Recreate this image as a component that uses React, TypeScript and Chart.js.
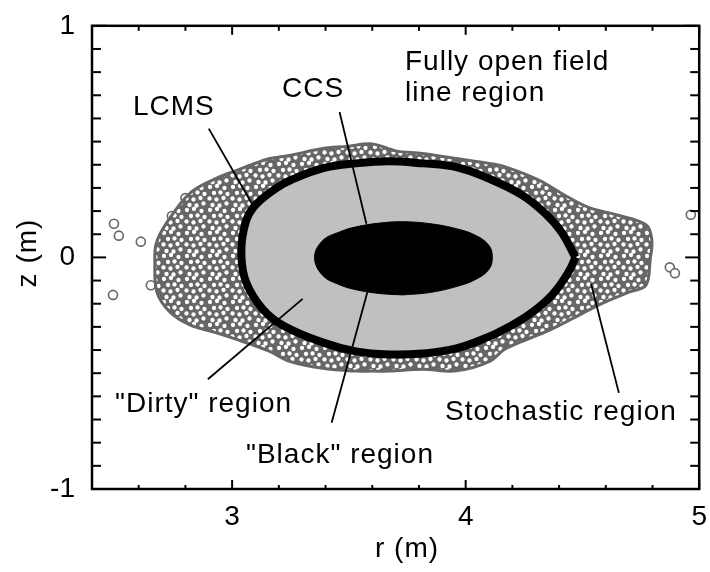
import React, { useEffect, useRef } from "react";
import { Chart, registerables } from "chart.js";

Chart.register(...registerables);

// ---------- axes ----------
const rMin = 2.4;
const rMax = 5;
const zMin = -1;
const zMax = 1;
const rMajorTicks = [3, 4, 5];
const rMinorTicks = [2.6, 2.8, 3.2, 3.4, 3.6, 3.8, 4.2, 4.4, 4.6, 4.8];
const zMajorTicks = [-1, 0, 1];
const zMinorTicks = [-0.9, -0.8, -0.7, -0.6, -0.5, -0.4, -0.3, -0.2, -0.1, 0.1, 0.2, 0.3, 0.4, 0.5, 0.6, 0.7, 0.8, 0.9];

// ---------- shapes (r, z) ----------
const stochasticOuter: [number, number][] = [
  [3.6, -0.491], [3.532, -0.491], [3.387, -0.479], [3.246, -0.449], [3.161, -0.406],
  [3.045, -0.363], [2.917, -0.321], [2.819, -0.291], [2.733, -0.235], [2.678, -0.15],
  [2.669, -0.021], [2.675, 0.06], [2.72, 0.15], [2.82, 0.278],
  [2.934, 0.342], [3.02, 0.376], [3.075, 0.397], [3.161, 0.427], [3.246, 0.44],
  [3.387, 0.47], [3.49, 0.479], [3.6, 0.49], [3.7, 0.46], [3.815, 0.449],
  [3.96, 0.427], [4.1, 0.406], [4.173, 0.39], [4.315, 0.333], [4.43, 0.265],
  [4.528, 0.215], [4.644, 0.184], [4.772, 0.141], [4.797, 0.077], [4.79, -0.009],
  [4.772, -0.12], [4.699, -0.15], [4.571, -0.205], [4.456, -0.265], [4.344, -0.321],
  [4.173, -0.393], [4.1, -0.45], [3.96, -0.49], [3.815, -0.483], [3.674, -0.491],
  [3.6, -0.491],
];

const lcms: [number, number][] = [
  [4.47, 0], [4.41, 0.11], [4.34, 0.19], [4.24, 0.27], [4.1, 0.34], [3.96, 0.39],
  [3.815, 0.406], [3.67, 0.415], [3.53, 0.406], [3.39, 0.385], [3.25, 0.333],
  [3.19, 0.3], [3.09, 0.214], [3.05, 0.12], [3.04, 0.0], [3.06, -0.107],
  [3.13, -0.222], [3.22, -0.295], [3.39, -0.368], [3.53, -0.406],
  [3.67, -0.419], [3.815, -0.415], [3.96, -0.393], [4.1, -0.342], [4.17, -0.308],
  [4.27, -0.248], [4.37, -0.162], [4.44, -0.064], [4.47, 0],
];

const blackRegion: [number, number][] = [
  [3.73, -0.162], [3.844, -0.152], [3.96, -0.126], [4.045, -0.094], [4.1, -0.051],
  [4.114, 0], [4.1, 0.051], [4.045, 0.094], [3.96, 0.124], [3.844, 0.146],
  [3.729, 0.154], [3.631, 0.148], [3.532, 0.132], [3.46, 0.11], [3.387, 0.072],
  [3.353, 0], [3.387, -0.077], [3.46, -0.118], [3.532, -0.14], [3.631, -0.156],
  [3.73, -0.162],
];

const outlierPoints: [number, number][] = [
  [2.494, 0.145], [2.515, 0.094], [2.609, 0.068], [2.652, -0.12], [2.49, -0.162],
  [2.742, 0.179], [2.8, 0.256], [4.964, 0.184], [4.874, -0.043], [4.896, -0.068],
];

// ---------- leader lines ----------
const lcmsLeader: [number, number][] = [[2.9, 0.556], [3.088, 0.226]];
const ccsLeader: [number, number][] = [[3.46, 0.628], [3.575, 0.145]];
const dirtyLeader: [number, number][] = [[2.896, -0.526], [3.302, -0.179]];
const blackLeader: [number, number][] = [[3.426, -0.714], [3.579, -0.15]];
const stochasticLeader: [number, number][] = [[4.656, -0.585], [4.537, -0.115]];

// ---------- texts (canvas px: left x, baseline y) ----------
const FONT = '"Liberation Sans", Arial, sans-serif';
const annotations = [
  { text: "LCMS", x: 133, y: 115 },
  { text: "CCS", x: 282, y: 97 },
  { text: "Fully open field", x: 405, y: 70 },
  { text: "line region", x: 405, y: 101 },
  { text: "\"Dirty\" region", x: 115, y: 412 },
  { text: "\"Black\" region", x: 246, y: 463 },
  { text: "Stochastic region", x: 445, y: 420 },
];
const xTitle = "r (m)";
const yTitle = "z (m)";

const toXY = (arr: [number, number][]) => arr.map(([x, y]) => ({ x, y }));

// hand-placed holes for the texture of the particle cloud
const holePositions = [
  [3, 3], [10, 2], [17.5, 4], [7, 9], [13.5, 8.5], [20.5, 10],
  [2.5, 14.5], [9.5, 15.5], [16.5, 14], [5.5, 21], [12.5, 21.5], [19.5, 19.5],
];

function makeCloudPattern(ctx: CanvasRenderingContext2D) {
  const size = 23;
  const c = document.createElement("canvas");
  c.width = size;
  c.height = size;
  const g = c.getContext("2d")!;
  g.fillStyle = "#666666";
  g.fillRect(0, 0, size, size);
  g.fillStyle = "#ffffff";
  for (const [hx, hy] of holePositions) {
    for (const dx of [-size, 0, size]) {
      for (const dy of [-size, 0, size]) {
        g.beginPath();
        g.arc(hx + dx, hy + dy, 2.15, 0, Math.PI * 2);
        g.fill();
      }
    }
  }
  return ctx.createPattern(c, "repeat")!;
}

const frameAndTicks = {
  id: "frameAndTicks",
  afterDraw(chart: any) {
    const { ctx, chartArea: a, scales } = chart;
    const x = scales.x;
    const y = scales.y;
    ctx.save();
    ctx.strokeStyle = "#000";
    ctx.lineWidth = 2;
    const seg = (x1: number, y1: number, x2: number, y2: number) => {
      ctx.beginPath();
      ctx.moveTo(x1, y1);
      ctx.lineTo(x2, y2);
      ctx.stroke();
    };
    for (const v of rMinorTicks) {
      const px = x.getPixelForValue(v);
      seg(px, a.bottom, px, a.bottom - 4);
      seg(px, a.top, px, a.top + 5);
    }
    for (const v of rMajorTicks) {
      const px = x.getPixelForValue(v);
      seg(px, a.bottom, px, a.bottom - 9);
      seg(px, a.top, px, a.top + 9);
    }
    for (const v of zMinorTicks) {
      const py = y.getPixelForValue(v);
      seg(a.left, py, a.left + 9, py);
      seg(a.right, py, a.right - 9, py);
    }
    for (const v of zMajorTicks) {
      const py = y.getPixelForValue(v);
      seg(a.left, py, a.left + 14, py);
      seg(a.right, py, a.right - 14, py);
    }
    ctx.lineWidth = 2.5;
    ctx.strokeRect(a.left, a.top, a.right - a.left, a.bottom - a.top);

    // texts
    ctx.fillStyle = "#000";
    ctx.font = `28px ${FONT}`;
    (ctx as any).letterSpacing = "1px";
    ctx.textAlign = "left";
    ctx.textBaseline = "alphabetic";
    for (const t of annotations) ctx.fillText(t.text, t.x, t.y);
    ctx.textAlign = "center";
    ctx.fillText(xTitle, 407, 557);
    ctx.translate(36, 253);
    ctx.rotate(-Math.PI / 2);
    ctx.fillText(yTitle, 0, 0);
    ctx.restore();
  },
};

export default function App() {
  const ref = useRef<HTMLCanvasElement>(null);
  useEffect(() => {
    document.body.style.margin = "0";
    const canvas = ref.current!;
    const ctx = canvas.getContext("2d")!;
    const pattern = makeCloudPattern(ctx);
    const leader = (data: [number, number][]) => ({
      data: toXY(data),
      showLine: true,
      borderColor: "#000",
      borderWidth: 1.8,
      pointRadius: 0,
      fill: false,
      order: 1,
    });
    const chart = new Chart(canvas, {
      type: "scatter",
      data: {
        datasets: [
          leader(lcmsLeader),
          leader(ccsLeader),
          leader(dirtyLeader),
          leader(blackLeader),
          leader(stochasticLeader),
          {
            data: toXY(blackRegion),
            showLine: true,
            tension: 0.4,
            borderColor: "#000",
            borderWidth: 1,
            backgroundColor: "#000",
            fill: "shape",
            pointRadius: 0,
            order: 3,
          },
          {
            data: toXY(lcms),
            showLine: true,
            tension: 0.4,
            borderColor: "#000",
            borderWidth: 8,
            backgroundColor: "#c0c0c0",
            fill: "shape",
            pointRadius: 0,
            order: 4,
          },
          {
            data: toXY(stochasticOuter),
            showLine: true,
            tension: 0.35,
            borderColor: "#666666",
            borderWidth: 3,
            backgroundColor: pattern,
            fill: "shape",
            pointRadius: 0,
            order: 5,
          },
          {
            data: toXY(outlierPoints),
            showLine: false,
            pointRadius: 4.5,
            pointBorderWidth: 1.6,
            pointBorderColor: "#666666",
            pointBackgroundColor: "#ffffff",
            order: 6,
          },
        ] as any,
      },
      options: {
        animation: false,
        responsive: false,
        maintainAspectRatio: false,
        layout: { padding: { top: 21, right: 10, left: 0, bottom: 0 } },
        plugins: { legend: { display: false }, tooltip: { enabled: false } },
        scales: {
          x: {
            type: "linear",
            min: rMin,
            max: rMax,
            grid: { display: false },
            border: { display: false },
            afterBuildTicks: (s: any) => {
              s.ticks = rMajorTicks.map((v) => ({ value: v }));
            },
            afterFit: (s: any) => {
              s.height = 83;
            },
            ticks: {
              color: "#000",
              font: { family: FONT, size: 28 },
              padding: 3,
              maxRotation: 0,
              autoSkip: false,
              callback: (v: any) => String(v),
            },
          },
          y: {
            type: "linear",
            min: zMin,
            max: zMax,
            grid: { display: false },
            border: { display: false },
            afterBuildTicks: (s: any) => {
              s.ticks = zMajorTicks.map((v) => ({ value: v }));
            },
            afterFit: (s: any) => {
              s.width = 92;
            },
            ticks: {
              color: "#000",
              font: { family: FONT, size: 28 },
              padding: 9,
              autoSkip: false,
              callback: (v: any) => String(v),
            },
          },
        },
      } as any,
      plugins: [frameAndTicks],
    });
    return () => chart.destroy();
  }, []);
  return <canvas ref={ref} width={710} height={572} />;
}
